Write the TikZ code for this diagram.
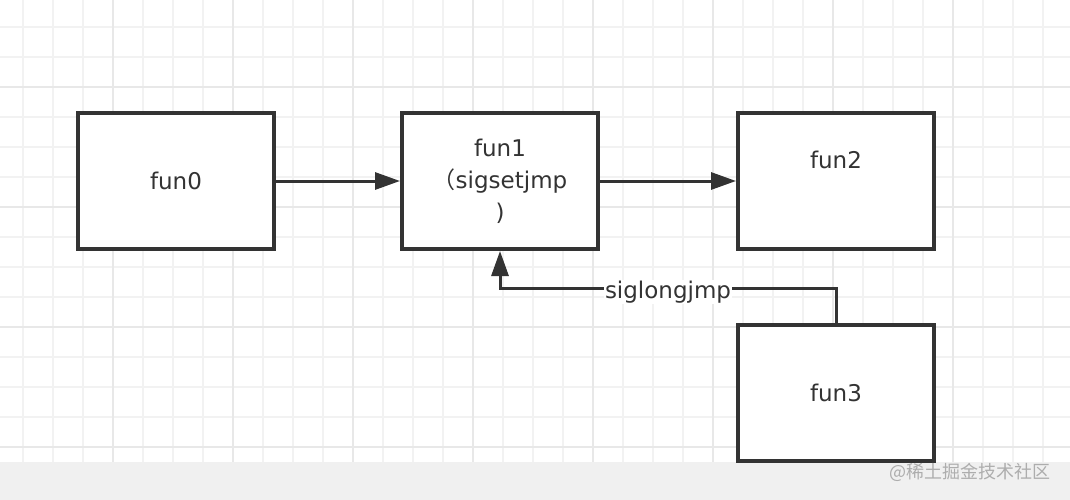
\documentclass[tikz,border=0pt]{standalone}
\usepackage{fontspec}
\setmainfont{DejaVu Sans}
\newfontfamily\cjk{Noto Sans CJK SC}
\usetikzlibrary{arrows.meta, positioning}
\definecolor{inkgray}{HTML}{333333}
\definecolor{gridthin}{HTML}{F2F2F2}
\definecolor{gridthick}{HTML}{E8E8E8}
\definecolor{bandgray}{HTML}{F0F0F0}
\definecolor{markgray}{HTML}{ADADAD}

\begin{document}
\begin{tikzpicture}[x=1pt, y=-1pt,
  funbox/.style={draw=inkgray, line width=4pt, fill=white, minimum width=196pt, minimum height=136pt,
    inner sep=0pt, align=center, text=inkgray, font=\fontsize{23}{32}\selectfont},
  call/.style={draw=inkgray, line width=3pt, -{Triangle[length=25pt, width=17pt]}},
  jmplabel/.style={fill=white, text=inkgray, font=\fontsize{23}{26}\selectfont, inner sep=1pt}]
\useasboundingbox (0,0) rectangle (1070,500);
% grid paper
\foreach \x in {0,...,34} \draw[gridthin, line width=2pt] (22.7+30*\x,0) -- (22.7+30*\x,462);
\foreach \y in {0,...,14} \draw[gridthin, line width=2pt] (0,26.7+30*\y) -- (1070,26.7+30*\y);
\foreach \x in {0,...,8} \draw[gridthick, line width=2pt] (112.7+120*\x,0) -- (112.7+120*\x,462);
\foreach \y in {0,...,3} \draw[gridthick, line width=2pt] (0,86.7+120*\y) -- (1070,86.7+120*\y);
\fill[bandgray] (0,462) rectangle (1070,500);

% functions
\node[funbox] (fun0) at (176,181) {fun0};
\node[funbox, right=124pt of fun0] (fun1) {fun1\\{\cjk （}sigsetjmp\\)};
\node[funbox, right=136pt of fun1] (fun2) {fun2\\\strut};
\node[funbox, below=72pt of fun2] (fun3) {fun3};

% calls
\draw[call] (fun0) -- (fun1);
\draw[call] (fun1) -- (fun2);
\coordinate (bend) at (836,288);
\draw[call] (fun3.north) -- (bend) -| node[jmplabel, pos=0.25, yshift=-4pt] {siglongjmp} (fun1.south);

\node[font=\cjk\fontsize{18}{18}\selectfont, text=markgray, anchor=east] (mark) at (1054,472) {@稀土掘金技术社区};
\end{tikzpicture}
\end{document}
